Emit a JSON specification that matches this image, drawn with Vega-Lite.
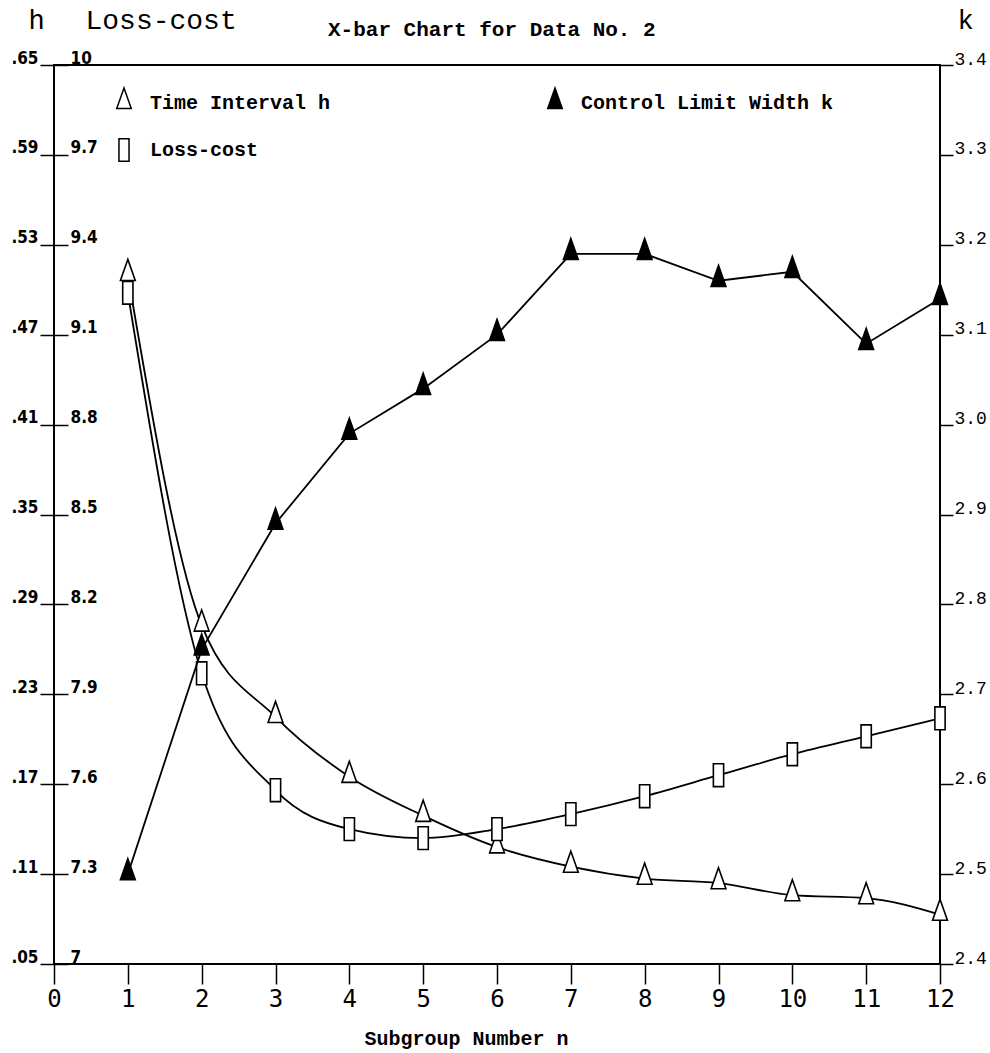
{
  "$schema": "https://vega.github.io/schema/vega-lite/v6.json",
  "width": 886,
  "height": 899,
  "autosize": {"type": "none"},
  "padding": {"left": 54, "top": 65, "right": 50, "bottom": 89},
  "background": "white",
  "title": {"text": "X-bar Chart for Data No. 2", "anchor": "start", "frame": "group", "dx": 274, "offset": -34, "font": "Liberation Mono", "fontSize": 21, "fontWeight": "bold", "color": "black"},
  "config": {
    "view": {"stroke": "black", "strokeWidth": 2},
    "axis": {"grid": false, "domain": false, "tickColor": "black", "tickWidth": 1.5, "labelColor": "black", "titleColor": "black", "labelOverlap": false, "labelFlush": false, "labelBound": false},
    "legend": {"orient": "none", "legendX": 58, "legendY": 26, "columns": 2, "columnPadding": 212, "rowPadding": 22, "symbolSize": 500, "symbolStrokeColor": "black", "symbolStrokeWidth": 1.5, "labelFont": "Liberation Mono", "labelFontSize": 20, "labelFontWeight": "bold", "labelColor": "black", "labelOffset": 14, "labelLimit": 500, "padding": 0}
  },
  "data": {"values": [
    {"n": 1, "h": 0.51, "loss": 9.24, "k": 2.50},
    {"n": 2, "h": 0.276, "loss": 7.97, "k": 2.75},
    {"n": 3, "h": 0.215, "loss": 7.58, "k": 2.89},
    {"n": 4, "h": 0.175, "loss": 7.45, "k": 2.99},
    {"n": 5, "h": 0.149, "loss": 7.42, "k": 3.04},
    {"n": 6, "h": 0.128, "loss": 7.45, "k": 3.10},
    {"n": 7, "h": 0.115, "loss": 7.50, "k": 3.19},
    {"n": 8, "h": 0.107, "loss": 7.56, "k": 3.19},
    {"n": 9, "h": 0.104, "loss": 7.63, "k": 3.16},
    {"n": 10, "h": 0.096, "loss": 7.70, "k": 3.17},
    {"n": 11, "h": 0.094, "loss": 7.76, "k": 3.09},
    {"n": 12, "h": 0.083, "loss": 7.82, "k": 3.14}
  ]},
  "encoding": {
    "x": {"field": "n", "type": "quantitative", "scale": {"domain": [0, 12], "nice": false, "zero": false},
      "axis": {"values": [0,1,2,3,4,5,6,7,8,9,10,11,12], "tickSize": 20, "labelPadding": 3, "labelFont": "DejaVu Sans Mono", "labelFontSize": 24,
        "title": "Subgroup Number n", "titleFont": "Liberation Mono", "titleFontSize": 20, "titleFontWeight": "bold", "titleX": 412, "titleY": 80, "titleAlign": "center", "titleBaseline": "alphabetic"}}
  },
  "layer": [
    {
      "encoding": {
        "y": {"field": "h", "type": "quantitative", "scale": {"domain": [0.05, 0.65], "nice": false, "zero": false},
          "axis": {"orient": "left", "values": [0.05,0.11,0.17,0.23,0.29,0.35,0.41,0.47,0.53,0.59,0.65], "labelExpr": "replace(format(datum.value,'.2f'),'0.','.')", "tickSize": 14, "labelPadding": 2, "labelFont": "DejaVu Sans Condensed, DejaVu Sans", "labelFontSize": 17, "labelFontWeight": "bold", "labelBaseline": "alphabetic", "labelOffset": -2,
            "title": "h", "titleAngle": 0, "titleX": -26, "titleY": -37, "titleAlign": "left", "titleBaseline": "alphabetic", "titleFont": "Liberation Mono", "titleFontSize": 27, "titleFontWeight": "normal"}}
      },
      "layer": [
        {"mark": {"type": "line", "interpolate": "monotone", "color": "black", "strokeWidth": 1.8}},
        {"mark": {"type": "point", "filled": true, "strokeWidth": 1.6, "size": 520, "opacity": 1},
          "encoding": {
            "shape": {"datum": "Time Interval h", "type": "nominal", "scale": {"domain": ["Time Interval h", "Loss-cost", "Control Limit Width k"], "range": ["M0,-1.35L0.65,0.5L-0.65,0.5Z", "M-0.45,-1L0.45,-1L0.45,1L-0.45,1Z", "M0,-1.35L0.65,0.5L-0.65,0.5Z"]}, "legend": {"title": null}},
            "fill": {"datum": "Time Interval h", "type": "nominal", "scale": {"domain": ["Time Interval h", "Loss-cost", "Control Limit Width k"], "range": ["white", "white", "black"]}, "legend": {"title": null}},
            "stroke": {"datum": "Time Interval h", "type": "nominal", "scale": {"domain": ["Time Interval h", "Loss-cost", "Control Limit Width k"], "range": ["black", "black", "black"]}, "legend": {"title": null}}
          }}
      ]
    },
    {
      "encoding": {
        "y": {"field": "loss", "type": "quantitative", "scale": {"domain": [7, 10], "nice": false, "zero": false},
          "axis": {"orient": "left", "offset": -14, "values": [7,7.3,7.6,7.9,8.2,8.5,8.8,9.1,9.4,9.7,10], "labelExpr": "format(datum.value,'.2~f')", "tickSize": 14, "labelAlign": "left", "labelPadding": -16, "labelFont": "DejaVu Sans Condensed, DejaVu Sans", "labelFontSize": 17, "labelFontWeight": "bold", "labelBaseline": "alphabetic", "labelOffset": -2,
            "title": "Loss-cost", "titleAngle": 0, "titleX": 17, "titleY": -37, "titleAlign": "left", "titleBaseline": "alphabetic", "titleFont": "Liberation Mono", "titleFontSize": 28, "titleFontWeight": "normal"}}
      },
      "layer": [
        {"mark": {"type": "line", "interpolate": "monotone", "color": "black", "strokeWidth": 1.8}},
        {"mark": {"type": "point", "filled": true, "strokeWidth": 1.6, "size": 520, "opacity": 1},
          "encoding": {
            "shape": {"datum": "Loss-cost", "type": "nominal", "scale": {"domain": ["Time Interval h", "Loss-cost", "Control Limit Width k"], "range": ["M0,-1.35L0.65,0.5L-0.65,0.5Z", "M-0.45,-1L0.45,-1L0.45,1L-0.45,1Z", "M0,-1.35L0.65,0.5L-0.65,0.5Z"]}, "legend": {"title": null}},
            "fill": {"datum": "Loss-cost", "type": "nominal", "scale": {"domain": ["Time Interval h", "Loss-cost", "Control Limit Width k"], "range": ["white", "white", "black"]}, "legend": {"title": null}},
            "stroke": {"datum": "Loss-cost", "type": "nominal", "scale": {"domain": ["Time Interval h", "Loss-cost", "Control Limit Width k"], "range": ["black", "black", "black"]}, "legend": {"title": null}}
          }}
      ]
    },
    {
      "encoding": {
        "y": {"field": "k", "type": "quantitative", "scale": {"domain": [2.4, 3.4], "nice": false, "zero": false},
          "axis": {"orient": "right", "values": [2.4,2.5,2.6,2.7,2.8,2.9,3.0,3.1,3.2,3.3,3.4], "format": ".1f", "tickSize": 13, "labelPadding": 1, "labelFont": "Liberation Mono", "labelFontSize": 18, "labelBaseline": "alphabetic", "labelOffset": -1,
            "title": "k", "titleAngle": 0, "titleX": 25, "titleY": -37, "titleAlign": "center", "titleBaseline": "alphabetic", "titleFont": "Liberation Mono", "titleFontSize": 27, "titleFontWeight": "normal"}}
      },
      "layer": [
        {"mark": {"type": "line", "color": "black", "strokeWidth": 1.8}},
        {"mark": {"type": "point", "filled": true, "strokeWidth": 1.6, "size": 520, "opacity": 1},
          "encoding": {
            "shape": {"datum": "Control Limit Width k", "type": "nominal", "scale": {"domain": ["Time Interval h", "Loss-cost", "Control Limit Width k"], "range": ["M0,-1.35L0.65,0.5L-0.65,0.5Z", "M-0.45,-1L0.45,-1L0.45,1L-0.45,1Z", "M0,-1.35L0.65,0.5L-0.65,0.5Z"]}, "legend": {"title": null}},
            "fill": {"datum": "Control Limit Width k", "type": "nominal", "scale": {"domain": ["Time Interval h", "Loss-cost", "Control Limit Width k"], "range": ["white", "white", "black"]}, "legend": {"title": null}},
            "stroke": {"datum": "Control Limit Width k", "type": "nominal", "scale": {"domain": ["Time Interval h", "Loss-cost", "Control Limit Width k"], "range": ["black", "black", "black"]}, "legend": {"title": null}}
          }}
      ]
    }
  ],
  "resolve": {"scale": {"y": "independent"}}
}
